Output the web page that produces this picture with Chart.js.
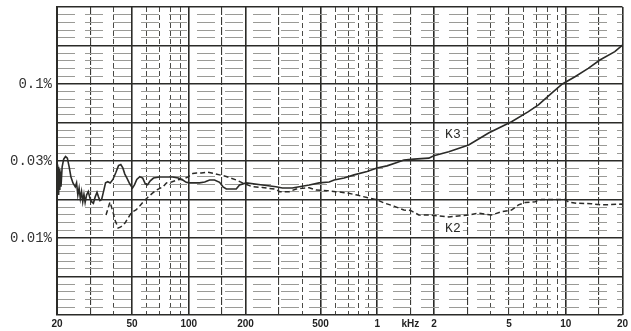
<!DOCTYPE html>
<html><head><meta charset="utf-8">
<script src="https://cdn.jsdelivr.net/npm/chart.js@4/dist/chart.umd.min.js"></script>
<style>html,body{margin:0;padding:0;background:#fff;}#wrap{width:631px;height:331px;}</style>
</head><body><div id="wrap"><canvas id="c" width="631" height="331"></canvas></div>
<script>
// ---- data (Hz, % distortion) ----
const k3Freq = [20,20.1,20.2,20.3,20.4,20.55,20.7,20.85,21.0,21.3,21.7,22.2,22.7,23.2,23.7,24.3,25.0,25.4,25.8,26.2,26.6,27.0,27.4,27.8,28.2,28.7,29.3,29.9,30.5,31.2,31.9,32.6,33.2,33.8,34.5,35.3,36.2,37.2,38.3,39.6,41.0,42.4,43.6,44.7,45.8,47.0,48.6,50.3,51.6,53.0,55.0,57.0,58.8,60.5,62.5,65.0,70.0,76.0,82.0,88.0,93.0,97.0,101,114,121.5,129,137,145.8,152,158.3,178.6,186,201.8,246,290,314,354,386,436,492,556,591,667,754,883,997,1127,1273,1385,1564,1879,1996,2396,3055,3898,5158,6340,7163,8395,9600,11200,13170,15180,18220,20000];
const k3Pct  = [0.0255,0.0300,0.0200,0.0290,0.0190,0.0280,0.0205,0.0270,0.0215,0.0290,0.0325,0.0338,0.0330,0.0290,0.0250,0.0228,0.0215,0.0228,0.0190,0.0211,0.0180,0.0200,0.0172,0.0192,0.0170,0.0190,0.0200,0.0182,0.0172,0.0168,0.0185,0.0198,0.0185,0.0175,0.0178,0.0200,0.0228,0.0232,0.0228,0.0240,0.0265,0.0295,0.0300,0.0285,0.0260,0.0245,0.0225,0.0211,0.0222,0.0240,0.0250,0.0245,0.0225,0.0222,0.0235,0.0245,0.0249,0.0249,0.0249,0.0245,0.0238,0.0230,0.0228,0.0228,0.0231,0.0238,0.0238,0.0230,0.0215,0.0208,0.0208,0.0221,0.0228,0.0221,0.0215,0.0211,0.0211,0.0215,0.0221,0.0228,0.0231,0.0238,0.0245,0.0257,0.0270,0.0285,0.0294,0.0309,0.0321,0.0325,0.0330,0.0342,0.0363,0.0402,0.0481,0.0569,0.0661,0.0731,0.0870,0.1000,0.1115,0.1264,0.1432,0.1622,0.1790];
const k2Freq = [36.4,38.2,39.5,40.6,42.2,43.6,45.9,49.8,52.5,55.1,57.2,60.7,64.0,67.5,72.9,76.2,81.0,89.6,93.0,98.8,105,110,116.7,126,137,145.8,158,178.6,193,218,246,291,303,341.8,371,400,436,473,543,603,692,782,883,997,1086,1227,1385,1503,1564,1663,1879,2396,3055,3451,4044,4566,5158,5616,6095,6883,7432,8395,9900,10400,11500,13650,15420,19680,20000];
const k2Pct  = [0.0141,0.0171,0.0150,0.0131,0.0116,0.0118,0.0125,0.0147,0.0152,0.0162,0.0171,0.0184,0.0195,0.0205,0.0215,0.0228,0.0231,0.0241,0.0240,0.0249,0.0262,0.0264,0.0264,0.0268,0.0262,0.0257,0.0251,0.0238,0.0228,0.0215,0.0213,0.0207,0.0200,0.0200,0.0208,0.0210,0.0212,0.0205,0.0203,0.0200,0.0196,0.0190,0.0183,0.0177,0.0169,0.0161,0.0152,0.0151,0.0147,0.0141,0.0141,0.0137,0.0141,0.0145,0.0141,0.0148,0.0152,0.0164,0.0170,0.0172,0.0178,0.0178,0.0178,0.0171,0.0168,0.0167,0.0164,0.0166,0.0165];

// ---- tick labels ----
const xLabelTicks = [20,50,100,200,500,1000,1500,2000,5000,10000,20000];
const xLabelText  = ['20','50','100','200','500','1','kHz','2','5','10','20'];
const xSolidGrid  = [20,50,100,200,500,1000,2000,10000,20000];
const xMediumGrid = [30,150,300,1500,3000,5000,15000];
const xDashedGrid = [40,60,70,80,90,400,600,700,800,900,4000,6000,7000,8000,9000];
const yLabelDb    = [-60,-70,-80];
const yLabelText  = ['0.1%','0.03%','0.01%'];
const yDbMin = -90, yDbMax = -50, yMajorStepDb = 5;
const curveLabels = ['K3','K2'];
const curveLabelFreq = [2520, 2520];
const curveLabelPct = [0.0467, 0.0116];

const dbToPct = d => 100 * Math.pow(10, d / 20);
const yMajor = [], yMinor = [];
for (let d = yDbMax; d >= yDbMin; d--) {
  (d % yMajorStepDb === 0 ? yMajor : yMinor).push(dbToPct(d));
}
const yLabelVals = yLabelDb.map(dbToPct);
const near = (a, b) => Math.abs(a - b) / b < 1e-6;
const setTicks = vals => s => { s.ticks = vals.map(v => ({value: v})); };
const fitV = w => s => { s.width = w; s.paddingTop = 0; s.paddingBottom = 0; };

const ink = '#2b2b28';
const hiddenAxisBase = (min, max, dash, color, width) => ({
  type: 'logarithmic', min, max,
  ticks: {display: false},
  grid: {drawTicks: false, color, lineWidth: width, borderDash: dash},
  border: {display: false, dash}
});

const labelPlugin = {
  id: 'curveLabels',
  afterDatasetsDraw(chart) {
    const {ctx, scales: {x, y}} = chart;
    ctx.save();
    ctx.font = '13px "Liberation Mono", monospace';
    ctx.textAlign = 'center';
    ctx.textBaseline = 'middle';
    curveLabels.forEach((t, i) => {
      const px = x.getPixelForValue(curveLabelFreq[i]);
      const py = y.getPixelForValue(curveLabelPct[i]);
      ctx.fillStyle = '#fff';
      ctx.fillRect(px - 10, py - 6, 20, 12);
      ctx.fillStyle = ink;
      ctx.fillText(t, px, py);
    });
    ctx.restore();
  }
};

const toPts = (f, v) => f.map((fx, i) => ({x: fx, y: v[i]}));

new Chart(document.getElementById('c'), {
  type: 'line',
  data: {
    datasets: [
      {label: 'K3', data: toPts(k3Freq, k3Pct), borderColor: ink, borderWidth: 1.6, pointRadius: 0, tension: 0, fill: false},
      {label: 'K2', data: toPts(k2Freq, k2Pct), borderColor: ink, borderWidth: 1.5, borderDash: [5, 3], pointRadius: 0, tension: 0, fill: false}
    ]
  },
  options: {
    responsive: false, animation: false, devicePixelRatio: 1,
    layout: {padding: {top: 7, left: 0, right: 0, bottom: 0}},
    plugins: {legend: {display: false}, tooltip: {enabled: false}},
    scales: {
      x: {
        type: 'logarithmic', min: 20, max: 20000, position: 'bottom',
        afterBuildTicks: s => { s.ticks = [...new Set(xSolidGrid.concat(xLabelTicks))].sort((a,b)=>a-b).map(v => ({value: v})); },
        afterFit: s => { s.height = 16; },
        ticks: {
          autoSkip: false, maxRotation: 0, padding: 3, color: '#222',
          font: {family: '"Liberation Sans", Arial, sans-serif', size: 10, weight: 'bold'},
          callback: (v) => { const i = xLabelTicks.indexOf(v); return i >= 0 ? xLabelText[i] : ''; }
        },
        grid: {drawTicks: false, color: c => xSolidGrid.includes(c.tick.value) ? ink : 'rgba(0,0,0,0)', lineWidth: 1.6},
        border: {display: false}
      },
      xm: Object.assign(hiddenAxisBase(20, 20000, [8, 2], '#3a3a36', 1.1), {position: 'bottom', afterBuildTicks: setTicks(xMediumGrid), afterFit: s => { s.height = 0; }}),
      xd: Object.assign(hiddenAxisBase(20, 20000, [5, 3], '#4a4a46', 1), {position: 'bottom', afterBuildTicks: setTicks(xDashedGrid), afterFit: s => { s.height = 0; }}),
      y: {
        type: 'logarithmic', min: dbToPct(yDbMin), max: dbToPct(yDbMax), position: 'left',
        afterBuildTicks: setTicks(yMajor),
        afterFit: fitV(57),
        ticks: {
          autoSkip: false, padding: 5, color: '#333',
          font: {family: '"Liberation Mono", "DejaVu Sans Mono", monospace', size: 14},
          callback: (v) => { const i = yLabelVals.findIndex(t => near(t, v)); return i >= 0 ? yLabelText[i] : ''; }
        },
        grid: {drawTicks: false, color: ink, lineWidth: 1.5},
        border: {display: true, color: ink, width: 2}
      },
      y2: Object.assign(hiddenAxisBase(dbToPct(yDbMin), dbToPct(yDbMax), [18, 10], '#9a9a96', 1), {position: 'left', afterBuildTicks: setTicks(yMinor), afterFit: fitV(0)})
    }
  },
  plugins: [labelPlugin]
});
</script></body></html>
